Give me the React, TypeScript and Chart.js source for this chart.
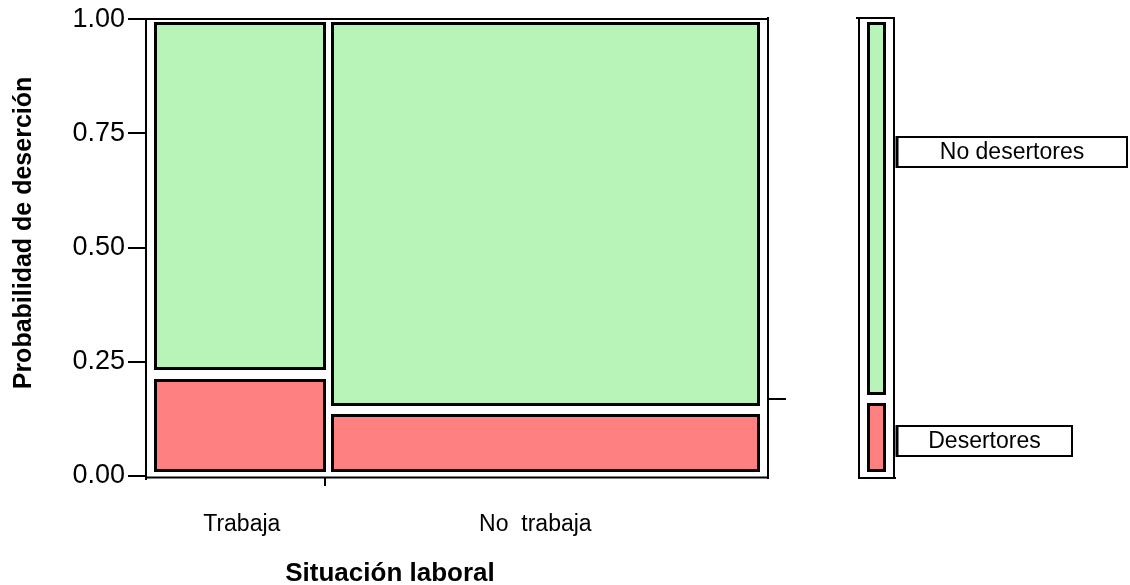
import React, { useEffect, useRef } from 'react';
import { Chart, registerables } from 'chart.js';

Chart.register(...registerables);

// ---- data ----
const categories = ['Trabaja', 'No  trabaja'];
const columnShare = [0.288, 0.712];
const responseLevels = ['Desertores', 'No desertores'];
const desertoresShare = [0.223, 0.145];
const overallDesertores = 0.168;
const yTicks = [0, 0.25, 0.5, 0.75, 1];
const yTitle = 'Probabilidad de deserción';
const xTitle = 'Situación laboral';

// ---- layout / style ----
const FONT = '"Liberation Sans", Arial, Helvetica, sans-serif';
const GREEN = '#b8f4b8';
const RED = '#ff8080';
const catLabelX = [0.154, 0.626];
const legendLabelY = [0.076, 0.709];
const legendBoxW = [177, 232];

const mosaicPlugin = {
  id: 'mosaic',
  afterDraw(chart: any) {
    const { ctx, chartArea: ca, scales } = chart;
    const x = scales.x;
    const y = scales.y;
    const px = (v: number) => x.getPixelForValue(v);
    const py = (v: number) => y.getPixelForValue(v);
    ctx.save();

    const rect = (x0: number, y0: number, x1: number, y1: number, fill: string) => {
      ctx.fillStyle = fill;
      ctx.fillRect(x0, y0, x1 - x0, y1 - y0);
      ctx.lineWidth = 3;
      ctx.strokeStyle = '#000';
      ctx.strokeRect(x0 + 1.5, y0 + 1.5, x1 - x0 - 3, y1 - y0 - 3);
    };
    const line = (x0: number, y0: number, x1: number, y1: number, w = 2) => {
      ctx.beginPath();
      ctx.lineWidth = w;
      ctx.strokeStyle = '#000';
      ctx.moveTo(x0, y0);
      ctx.lineTo(x1, y1);
      ctx.stroke();
    };

    const top = Math.round(py(1));
    const bot = Math.round(py(0));

    // mosaic rectangles
    let cum = 0;
    columnShare.forEach((w, i) => {
      const l = px(cum);
      const r = px(cum + w);
      const x0 = Math.round(l + (i === 0 ? 8 : 6));
      const x1 = Math.round(r + (i === columnShare.length - 1 ? -8 : 1));
      const split = py(desertoresShare[i]);
      rect(x0, top + 3, x1, Math.round(split - 4), GREEN);
      rect(x0, Math.round(split + 4.5), x1, bot - 4, RED);
      cum += w;
    });

    // frame
    line(ca.left, top, ca.right + 1, top);
    line(ca.right, top - 2, ca.right, bot + 3);
    line(ca.left, bot + 1.5, ca.right + 1, bot + 1.5);
    line(ca.left, bot, ca.left, bot + 4);
    // column boundary tick
    const bx = Math.round(px(columnShare[0]));
    line(bx, bot + 1, bx, bot + 10);
    // overall tick at right
    const oy = Math.round(py(overallDesertores));
    line(ca.right, oy, ca.right + 18, oy);

    // right-side overall bar
    const r0 = ca.right;
    const f0 = r0 + 91;
    const f1 = r0 + 126;
    line(f0, top - 2, f0, bot + 3);
    line(f1, top - 2, f1, bot + 3);
    line(f0 - 3, top - 1, f1 + 1, top - 1);
    line(f0 - 1, bot + 2, f1 + 2, bot + 2);
    rect(r0 + 99, top + 3, r0 + 118, oy - 4, GREEN);
    rect(r0 + 99, oy + 4, r0 + 118, bot - 4, RED);

    // legend boxes
    ctx.font = `23px ${FONT}`;
    ctx.textAlign = 'center';
    ctx.textBaseline = 'middle';
    responseLevels.forEach((lab, i) => {
      const cy = Math.round(py(legendLabelY[i]));
      const lx = r0 + 128;
      const w = legendBoxW[i];
      ctx.fillStyle = '#fff';
      ctx.fillRect(lx, cy - 15, w, 30);
      ctx.lineWidth = 2;
      ctx.strokeStyle = '#000';
      ctx.strokeRect(lx + 1, cy - 15, w - 2, 30);
      line(lx + 1, cy - 16, lx + 1, cy + 16, 3);
      ctx.fillStyle = '#000';
      ctx.fillText(lab, lx + w / 2, cy + 1);
    });

    // category labels
    ctx.font = `23px ${FONT}`;
    ctx.textBaseline = 'alphabetic';
    ctx.fillStyle = '#000';
    categories.forEach((c, i) => {
      ctx.fillText(c, px(catLabelX[i]), 531);
    });

    // axis titles
    ctx.font = `bold 26px ${FONT}`;
    ctx.textBaseline = 'middle';
    ctx.fillText(xTitle, 390, 574);
    ctx.save();
    ctx.translate(24, 233);
    ctx.rotate(-Math.PI / 2);
    ctx.font = `bold 25px ${FONT}`;
    ctx.fillText(yTitle, 0, 0);
    ctx.restore();

    ctx.restore();
  },
};

export default function App() {
  const ref = useRef<HTMLCanvasElement | null>(null);
  useEffect(() => {
    if (!ref.current) return;
    const chart = new Chart(ref.current, {
      type: 'scatter',
      data: { datasets: [] },
      options: {
        animation: false,
        responsive: false,
        devicePixelRatio: 1,
        layout: { padding: { top: 17, bottom: 109, left: 0, right: 362 } },
        plugins: { legend: { display: false }, tooltip: { enabled: false } },
        scales: {
          x: { type: 'linear', min: 0, max: 1, display: false },
          y: {
            type: 'linear',
            min: 0,
            max: 1,
            afterBuildTicks: (s: any) => {
              s.ticks = yTicks.map((v) => ({ value: v }));
            },
            afterFit: (s: any) => {
              s.width = 146;
            },
            ticks: {
              callback: (v: any) => Number(v).toFixed(2),
              font: { family: FONT, size: 27 },
              color: '#000',
              padding: 3,
            },
            grid: { drawOnChartArea: false, drawTicks: true, tickLength: 18, color: '#000', lineWidth: 2 },
            border: { display: true, color: '#000', width: 2 },
          },
        },
      } as any,
      plugins: [mosaicPlugin],
    });
    return () => chart.destroy();
  }, []);
  return (
    <div style={{ position: 'absolute', left: 0, top: 0, width: 1130, height: 585, background: '#fff' }}>
      <canvas ref={ref} width={1130} height={585} style={{ display: 'block' }} />
    </div>
  );
}
